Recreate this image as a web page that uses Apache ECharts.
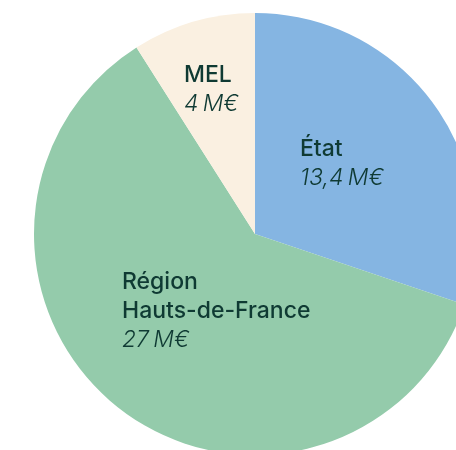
<!DOCTYPE html>
<html>
<head>
<meta charset="utf-8">
<script src="https://cdn.jsdelivr.net/npm/echarts@6/dist/echarts.min.js"></script>
<style>
  html, body { margin: 0; padding: 0; background: #fff; }
  #chart { width: 456px; height: 450px; }
</style>
</head>
<body>
<div id="chart"></div>
<script>
// financeurs, en millions d'euros
const names = ['État', 'Région\nHauts-de-France', 'MEL'];
const amounts = [13.4, 27, 4];
const colors = ['#85b5e2', '#94cbab', '#faf0e1'];
// label anchor (top-left) for each slice
const labelPos = [[300, 135], [122, 268], [184, 61]];

const chart = echarts.init(document.getElementById('chart'));

function fmt(v) {
    return String(v).replace('.', ',') + '\u2009M€';
}

chart.setOption({
    animation: false,
    series: [
        {
            type: 'pie',
            center: [255, 234],
            radius: 221,
            startAngle: 90,
            clockwise: true,
            silent: true,
            data: names.map((n, i) => ({
                name: n,
                value: amounts[i],
                itemStyle: { color: colors[i] }
            })),
            label: {
                show: true,
                position: 'inside',
                align: 'left',
                verticalAlign: 'top',
                formatter: function (p) {
                    return p.name.split('\n').map(s => '{a|' + s + '}').join('\n') + '\n{b|' + fmt(p.value) + '}';
                },
                rich: {
                    a: {
                        fontFamily: 'Inter',
                        fontWeight: 500,
                        fontSize: 23,
                        lineHeight: 29,
                        color: '#0f3a33'
                    },
                    b: {
                        fontFamily: 'Inter',
                        fontStyle: 'italic',
                        fontWeight: 300,
                        fontSize: 23,
                        lineHeight: 29,
                        color: '#0f3a33'
                    }
                }
            },
            labelLine: { show: false },
            labelLayout: function (params) {
                const pos = labelPos[params.dataIndex];
                return { x: pos[0], y: pos[1], align: 'left', verticalAlign: 'top' };
            }
        }
    ]
});
</script>
</body>
</html>
